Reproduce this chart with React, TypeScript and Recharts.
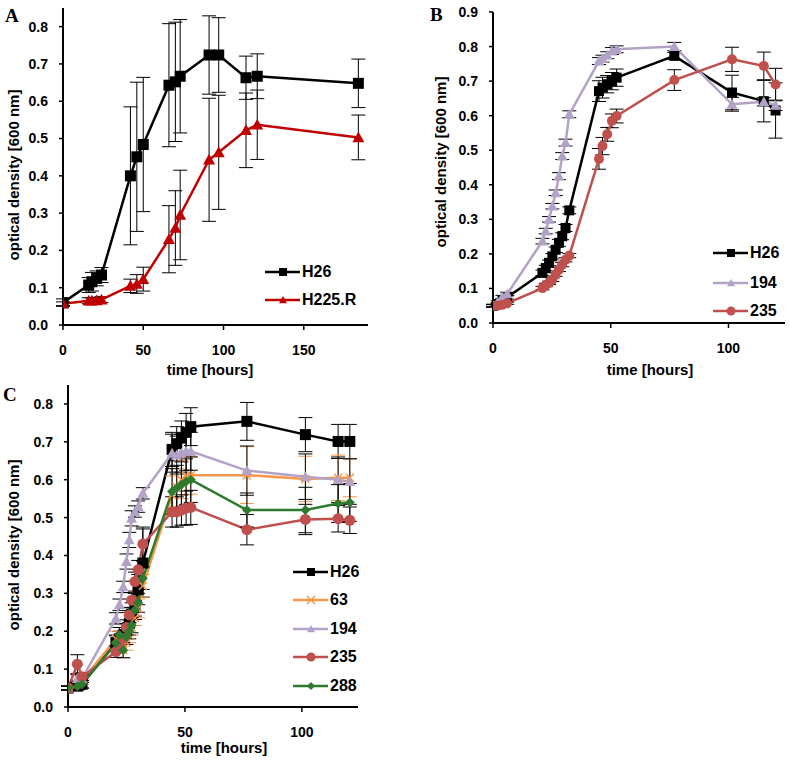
import React from 'react';
import { LineChart, Line, XAxis, YAxis, ErrorBar } from 'recharts';

const FONT = '"Liberation Sans", Arial, sans-serif';

// Panel A: H26 vs H225.R
const aHours = [0, 16, 18, 21, 24, 42, 46, 50, 66, 70, 73, 91, 97, 114, 121, 184];
const aH26 = [0.06, 0.107, 0.116, 0.125, 0.134, 0.4, 0.451, 0.484, 0.643, 0.652, 0.667, 0.724, 0.724, 0.663, 0.667, 0.648];
const aH26Err = [0.01, 0.02, 0.025, 0.02, 0.02, 0.185, 0.2, 0.18, 0.165, 0.16, 0.152, 0.105, 0.1, 0.058, 0.06, 0.065];
const aH225 = [0.057, 0.065, 0.065, 0.066, 0.068, 0.105, 0.11, 0.123, 0.23, 0.26, 0.295, 0.443, 0.463, 0.522, 0.537, 0.503];
const aH225Err = [0.005, 0.008, 0.008, 0.008, 0.008, 0.018, 0.025, 0.032, 0.09, 0.1, 0.12, 0.165, 0.153, 0.1, 0.093, 0.06];

// Panel B: H26, 194, 235
const bHours = [0, 2, 4, 6, 21, 22.4, 23.8, 25.2, 26.6, 28, 29.4, 30.8, 32.4, 45, 46.5, 48.5, 50.5, 52.5, 77, 101.5, 115, 120];
const bH26 = [0.05, 0.055, 0.065, 0.074, 0.145, 0.159, 0.174, 0.193, 0.212, 0.232, 0.251, 0.275, 0.326, 0.671, 0.681, 0.691, 0.7, 0.71, 0.773, 0.667, 0.642, 0.615];
const bH26Err = [0.004, 0.004, 0.005, 0.005, 0.008, 0.008, 0.008, 0.008, 0.008, 0.01, 0.01, 0.01, 0.01, 0.03, 0.03, 0.025, 0.025, 0.025, 0.01, 0.05, 0.06, 0.08];
const b194 = [0.05, 0.06, 0.075, 0.084, 0.237, 0.266, 0.3, 0.338, 0.377, 0.425, 0.483, 0.522, 0.604, 0.758, 0.765, 0.775, 0.787, 0.792, 0.8, 0.633, 0.64, 0.63];
const b194Err = [0.004, 0.004, 0.005, 0.005, 0.008, 0.008, 0.008, 0.008, 0.008, 0.01, 0.01, 0.01, 0.01, 0.01, 0.01, 0.01, 0.01, 0.01, 0.012, 0.02, 0.012, 0.015];
const b235 = [0.05, 0.05, 0.053, 0.057, 0.101, 0.11, 0.116, 0.125, 0.14, 0.155, 0.169, 0.183, 0.195, 0.475, 0.512, 0.546, 0.585, 0.599, 0.703, 0.763, 0.744, 0.69];
const b235Err = [0.003, 0.003, 0.003, 0.003, 0.005, 0.005, 0.005, 0.005, 0.005, 0.006, 0.006, 0.006, 0.006, 0.03, 0.025, 0.02, 0.02, 0.02, 0.03, 0.035, 0.04, 0.047];

// Panel C: H26, 63, 194, 235, 288
const cHours = [0, 4, 6, 20.5, 22, 23.6, 25, 26.2, 27.2, 28.6, 30, 32, 44.5, 46.5, 48.5, 50.5, 52.5, 76.5, 101.5, 115.5, 120.5];
const cH26 = [0.05, 0.055, 0.06, 0.17, 0.18, 0.19, 0.2, 0.22, 0.245, 0.27, 0.31, 0.38, 0.68, 0.695, 0.71, 0.725, 0.74, 0.754, 0.719, 0.701, 0.701];
const cH26Err = [0.005, 0.01, 0.01, 0.02, 0.02, 0.02, 0.02, 0.03, 0.03, 0.03, 0.04, 0.09, 0.045, 0.045, 0.045, 0.05, 0.05, 0.05, 0.045, 0.045, 0.045];
const c63 = [0.05, 0.06, 0.07, 0.18, 0.17, 0.15, 0.17, 0.19, 0.21, 0.235, 0.26, 0.32, 0.56, 0.58, 0.6, 0.61, 0.612, 0.612, 0.602, 0.605, 0.605];
const c63Err = [0.005, 0.01, 0.01, 0.02, 0.02, 0.02, 0.02, 0.02, 0.02, 0.02, 0.025, 0.03, 0.05, 0.05, 0.05, 0.05, 0.05, 0.075, 0.06, 0.06, 0.05];
const c194 = [0.05, 0.075, 0.075, 0.234, 0.27, 0.317, 0.384, 0.441, 0.498, 0.516, 0.529, 0.564, 0.67, 0.665, 0.67, 0.675, 0.675, 0.624, 0.608, 0.6, 0.595];
const c194Err = [0.005, 0.01, 0.01, 0.015, 0.015, 0.015, 0.02, 0.02, 0.02, 0.015, 0.015, 0.015, 0.05, 0.05, 0.05, 0.05, 0.05, 0.065, 0.06, 0.06, 0.06];
const c235 = [0.05, 0.113, 0.08, 0.146, 0.16, 0.181, 0.21, 0.243, 0.282, 0.331, 0.362, 0.43, 0.515, 0.515, 0.52, 0.525, 0.527, 0.468, 0.495, 0.497, 0.493];
const c235Err = [0.005, 0.025, 0.01, 0.015, 0.015, 0.015, 0.02, 0.02, 0.02, 0.025, 0.025, 0.045, 0.04, 0.04, 0.04, 0.045, 0.045, 0.04, 0.04, 0.035, 0.035];
const c288 = [0.05, 0.055, 0.06, 0.168, 0.19, 0.15, 0.185, 0.2, 0.216, 0.256, 0.275, 0.34, 0.569, 0.578, 0.587, 0.595, 0.6, 0.52, 0.52, 0.537, 0.54];
const c288Err = [0.005, 0.01, 0.01, 0.02, 0.02, 0.02, 0.02, 0.02, 0.02, 0.025, 0.025, 0.03, 0.06, 0.06, 0.06, 0.06, 0.06, 0.045, 0.06, 0.05, 0.05];

type Shape = 'square' | 'triangle' | 'circle' | 'diamond' | 'cross';

interface Series {
  name: string;
  color: string;
  shape: Shape;
  size: number;
  hours: number[];
  values: number[];
  errors: number[];
  errColor: string;
}

const toPoints = (hours: number[], values: number[], errors: number[]) =>
  hours.map((x, i) => ({ x, y: values[i], err: errors[i] }));

function Marker({ shape, cx, cy, color, size }: { shape: Shape; cx: number; cy: number; color: string; size: number }) {
  const h = size / 2;
  if (shape === 'square') return <rect x={cx - h} y={cy - h} width={size} height={size} fill={color} />;
  if (shape === 'circle') return <circle cx={cx} cy={cy} r={h} fill={color} />;
  if (shape === 'triangle')
    return <polygon points={`${cx},${cy - h} ${cx + h},${cy + h * 0.8} ${cx - h},${cy + h * 0.8}`} fill={color} />;
  if (shape === 'diamond')
    return <polygon points={`${cx},${cy - h} ${cx + h},${cy} ${cx},${cy + h} ${cx - h},${cy}`} fill={color} />;
  return (
    <g stroke={color} strokeWidth={1.5}>
      <line x1={cx - h} y1={cy - h} x2={cx + h} y2={cy + h} />
      <line x1={cx - h} y1={cy + h} x2={cx + h} y2={cy - h} />
    </g>
  );
}

const seriesA: Series[] = [
  { name: 'H26', color: '#000000', shape: 'square', size: 11, hours: aHours, values: aH26, errors: aH26Err, errColor: '#000' },
  { name: 'H225.R', color: '#c00000', shape: 'triangle', size: 12, hours: aHours, values: aH225, errors: aH225Err, errColor: '#000' },
];

const seriesB: Series[] = [
  { name: 'H26', color: '#000000', shape: 'square', size: 10, hours: bHours, values: bH26, errors: bH26Err, errColor: '#000' },
  { name: '194', color: '#b3a2c7', shape: 'triangle', size: 11, hours: bHours, values: b194, errors: b194Err, errColor: '#000' },
  { name: '235', color: '#c0504d', shape: 'circle', size: 10, hours: bHours, values: b235, errors: b235Err, errColor: '#000' },
];

const seriesC: Series[] = [
  { name: 'H26', color: '#000000', shape: 'square', size: 11, hours: cHours, values: cH26, errors: cH26Err, errColor: '#000' },
  { name: '63', color: '#f79646', shape: 'cross', size: 8, hours: cHours, values: c63, errors: c63Err, errColor: '#f79646' },
  { name: '194', color: '#b3a2c7', shape: 'triangle', size: 11, hours: cHours, values: c194, errors: c194Err, errColor: '#000' },
  { name: '235', color: '#c0504d', shape: 'circle', size: 11, hours: cHours, values: c235, errors: c235Err, errColor: '#000' },
  { name: '288', color: '#2e7a2e', shape: 'diamond', size: 10, hours: cHours, values: c288, errors: c288Err, errColor: '#000' },
];

const tickStyle = { fontSize: 14, fontWeight: 700, fill: '#000', fontFamily: FONT };

interface PanelProps {
  width: number;
  height: number;
  margin: { top: number; right: number; left: number; bottom: number };
  xMax: number;
  xTicks: number[];
  yMax: number;
  yTicks: number[];
  yAxisWidth: number;
  xAxisHeight: number;
  series: Series[];
}

function Panel({ width, height, margin, xMax, xTicks, yMax, yTicks, yAxisWidth, xAxisHeight, series }: PanelProps) {
  return (
    <LineChart width={width} height={height} margin={margin}>
      <XAxis
        type="number"
        dataKey="x"
        domain={[0, xMax]}
        ticks={xTicks}
        allowDataOverflow
        height={xAxisHeight}
        tick={tickStyle}
        tickSize={5}
        tickMargin={15}
        axisLine={{ stroke: '#000', strokeWidth: 2 }}
        tickLine={{ stroke: '#000', strokeWidth: 1.5 }}
      />
      <YAxis
        type="number"
        domain={[0, yMax]}
        ticks={yTicks}
        allowDataOverflow
        width={yAxisWidth}
        tick={tickStyle}
        tickSize={4}
        tickMargin={11}
        tickFormatter={(v: number) => v.toFixed(1)}
        axisLine={{ stroke: '#000', strokeWidth: 2 }}
        tickLine={{ stroke: '#000', strokeWidth: 1.5 }}
      />
      {series.map((s) => (
        <Line
          key={s.name}
          data={toPoints(s.hours, s.values, s.errors)}
          dataKey="y"
          name={s.name}
          stroke={s.color}
          strokeWidth={2.5}
          isAnimationActive={false}
          activeDot={false}
          dot={(p: any) => (
            <Marker key={`${s.name}-${p.index}`} shape={s.shape} cx={p.cx} cy={p.cy} color={s.color} size={s.size} />
          )}
        >
          <ErrorBar dataKey="err" direction="y" width={7} stroke={s.errColor} strokeWidth={1} isAnimationActive={false} />
        </Line>
      ))}
    </LineChart>
  );
}

function LegendBox({ left, tops, series }: { left: number; tops: number[]; series: Series[] }) {
  return (
    <>
      {series.map((s, i) => (
        <div
          key={s.name}
          style={{ position: 'absolute', left, top: tops[i] - 9, display: 'flex', alignItems: 'center', height: 18 }}
        >
          <svg width={36} height={18}>
            <line x1={0} y1={9} x2={35} y2={9} stroke={s.color} strokeWidth={2.5} />
            <Marker shape={s.shape} cx={18} cy={9} color={s.color} size={s.shape === 'circle' ? 9 : 8} />
          </svg>
          <span style={{ fontFamily: FONT, fontWeight: 700, fontSize: 16, marginLeft: 1, lineHeight: '18px' }}>{s.name}</span>
        </div>
      ))}
    </>
  );
}

function YTitle({ cx, cy }: { cx: number; cy: number }) {
  return (
    <div
      style={{
        position: 'absolute',
        left: cx,
        top: cy,
        transform: 'translate(-50%, -50%) rotate(-90deg)',
        whiteSpace: 'nowrap',
        fontFamily: FONT,
        fontWeight: 700,
        fontSize: 15,
      }}
    >
      optical density [600 nm]
    </div>
  );
}

function XTitle({ cx, cy }: { cx: number; cy: number }) {
  return (
    <div
      style={{
        position: 'absolute',
        left: cx,
        top: cy,
        transform: 'translate(-50%, -50%)',
        whiteSpace: 'nowrap',
        fontFamily: FONT,
        fontWeight: 700,
        fontSize: 15,
      }}
    >
      time [hours]
    </div>
  );
}

function Letter({ x, y, text }: { x: number; y: number; text: string }) {
  return (
    <div
      style={{
        position: 'absolute',
        left: x,
        top: y,
        fontFamily: '"Liberation Serif", "Times New Roman", serif',
        fontWeight: 700,
        fontSize: 19,
        lineHeight: '19px',
      }}
    >
      {text}
    </div>
  );
}

export default function App() {
  return (
    <div style={{ position: 'absolute', left: 0, top: 0, width: 790, height: 760, background: '#fff', overflow: 'hidden' }}>
      <div style={{ position: 'absolute', left: 0, top: 0 }}>
        <Panel
          width={380}
          height={360}
          margin={{ top: 8, right: 12, left: 0, bottom: 0 }}
          xMax={190}
          xTicks={[0, 50, 100, 150]}
          yMax={0.85}
          yTicks={[0, 0.1, 0.2, 0.3, 0.4, 0.5, 0.6, 0.7, 0.8]}
          yAxisWidth={63}
          xAxisHeight={35}
          series={seriesA}
        />
      </div>
      <div style={{ position: 'absolute', left: 395, top: 0 }}>
        <Panel
          width={395}
          height={360}
          margin={{ top: 12, right: 5, left: 38, bottom: 0 }}
          xMax={124}
          xTicks={[0, 50, 100]}
          yMax={0.9}
          yTicks={[0, 0.1, 0.2, 0.3, 0.4, 0.5, 0.6, 0.7, 0.8, 0.9]}
          yAxisWidth={60}
          xAxisHeight={37}
          series={seriesB}
        />
      </div>
      <div style={{ position: 'absolute', left: 0, top: 380 }}>
        <Panel
          width={380}
          height={362}
          margin={{ top: 5, right: 22, left: 5, bottom: 0 }}
          xMax={124}
          xTicks={[0, 50, 100]}
          yMax={0.85}
          yTicks={[0, 0.1, 0.2, 0.3, 0.4, 0.5, 0.6, 0.7, 0.8]}
          yAxisWidth={63}
          xAxisHeight={35}
          series={seriesC}
        />
      </div>

      <Letter x={5} y={6} text="A" />
      <Letter x={430} y={5} text="B" />
      <Letter x={3} y={385} text="C" />

      <YTitle cx={13} cy={175} />
      <YTitle cx={440} cy={162} />
      <YTitle cx={13} cy={545} />

      <XTitle cx={210} cy={369} />
      <XTitle cx={650} cy={369} />
      <XTitle cx={224} cy={747} />

      <LegendBox left={265} tops={[272, 300]} series={seriesA} />
      <LegendBox left={713} tops={[253, 283, 311]} series={seriesB} />
      <LegendBox left={293} tops={[572, 600, 629, 657, 686]} series={seriesC} />
    </div>
  );
}
